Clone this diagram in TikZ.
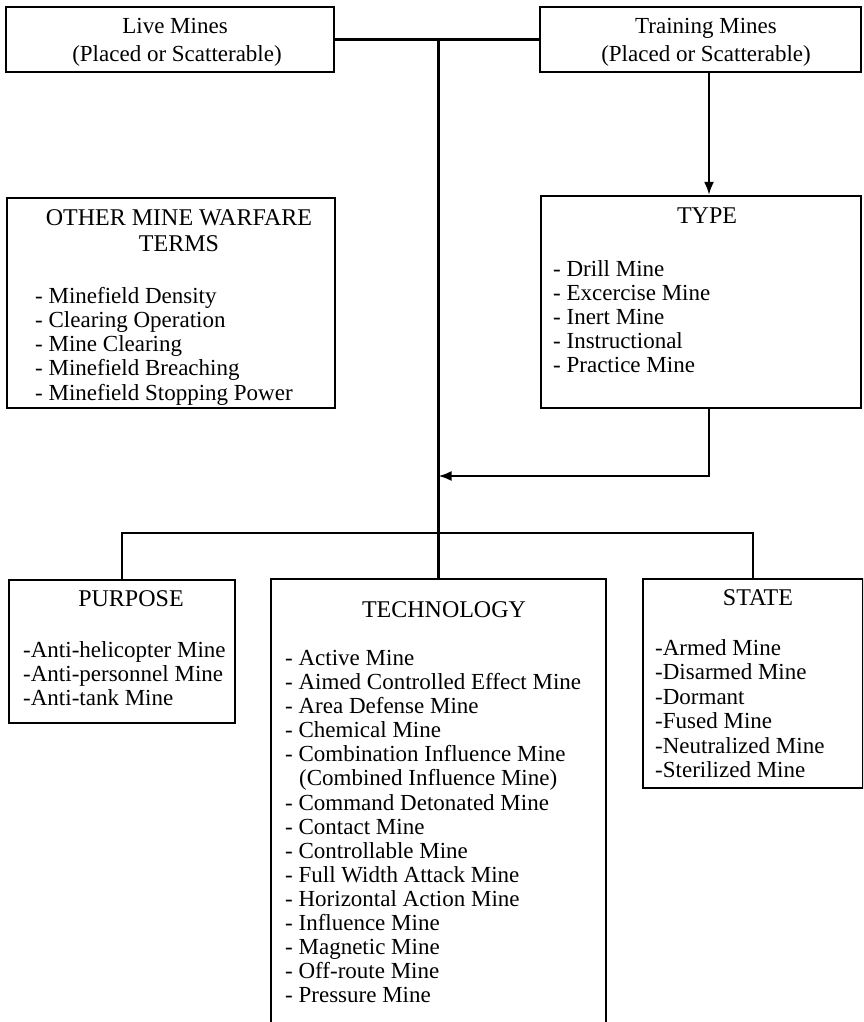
\documentclass[tikz,border=0pt]{standalone}
\usepackage{fontspec}
\setmainfont{Liberation Serif}
\usetikzlibrary{arrows.meta}
\tikzset{
    box/.style={draw, line width=2.2pt, inner sep=0pt},
    txt/.style={inner sep=0pt, font=\fontsize{23}{24}\selectfont},
    head/.style={inner sep=0pt, font=\fontsize{24}{25}\selectfont},
    link/.style={line width=2.2pt},
    arr/.style={line width=2.2pt, -{Latex[length=13pt,width=10pt]}}
}

\begin{document}
\begin{tikzpicture}[x=1pt,y=-1pt]
    \useasboundingbox (0,0) rectangle (863,1022);
    \clip (0,0) rectangle (863,1022);
    % boxes
    \node[box, minimum width=328pt, minimum height=65pt] (live) at (170,39.5) {};
    \node[box, minimum width=321pt, minimum height=65pt] (train) at (700.5,39.5) {};
    \node[box, minimum width=328pt, minimum height=210pt] (other) at (171,303) {};
    \node[box, minimum width=320pt, minimum height=212pt] (type) at (701,302) {};
    \node[box, minimum width=226pt, minimum height=143pt] (purpose) at (122,651.5) {};
    \node[box, minimum width=335pt, minimum height=461pt] (tech) at (438.5,809.5) {};
    \node[box, minimum width=220pt, minimum height=209pt] (state) at (753,683.5) {};
    % connectors
    \coordinate (fork) at (438.5,533);
    \coordinate (merge) at (438.5,476);
    \coordinate (tcol) at (709,0);
    \draw[link] (live.east) -- (train.west);
    \draw[link] (live.east -| tech.north) -- (tech.north);
    \draw[link] (purpose.north) |- (fork) -| (state.north);
    \draw[arr] (train.south -| tcol) -- (type.north -| tcol);
    \draw[arr] (type.south -| tcol) |- (merge);
    % headings
    \node[txt, anchor=base] (live-a) at (175,34) {Live Mines};
    \node[txt, anchor=base] (live-b) at (177,62) {(Placed or Scatterable)};
    \node[txt, anchor=base] (train-a) at (706,34) {Training Mines};
    \node[txt, anchor=base] (train-b) at (706,62) {(Placed or Scatterable)};
    \node[head, anchor=base] (other-a) at (179,225) {OTHER MINE WARFARE};
    \node[head, anchor=base] (other-b) at (179,251) {TERMS};
    \node[head, anchor=base] (type-a) at (707,223) {TYPE};
    \node[head, anchor=base] (purpose-a) at (131,606) {PURPOSE};
    \node[head, anchor=base] (tech-a) at (444,617) {TECHNOLOGY};
    \node[head, anchor=base] (state-a) at (758,605) {STATE};
    % lists
    \foreach \t [count=\i] in {- Minefield Density, - Clearing Operation, - Mine Clearing,
        - Minefield Breaching, - Minefield Stopping Power}
        \node[txt, anchor=base west] (other-\i) at (35,{279+24.2*\i}) {\t};
    \foreach \t [count=\i] in {- Drill Mine, - Excercise Mine, - Inert Mine,
        - Instructional, - Practice Mine}
        \node[txt, anchor=base west] (type-\i) at (553,{253+23.8*\i}) {\t};
    \foreach \t [count=\i] in {-Anti-helicopter Mine, -Anti-personnel Mine, -Anti-tank Mine}
        \node[txt, anchor=base west] (purpose-\i) at (23,{633+24*\i}) {\t};
    \foreach \t [count=\i] in {-Armed Mine, -Disarmed Mine, -Dormant, -Fused Mine,
        -Neutralized Mine, -Sterilized Mine}
        \node[txt, anchor=base west] (state-\i) at (655,{631+24.4*\i}) {\t};
    \foreach \t [count=\i] in {- Active Mine, - Aimed Controlled Effect Mine, - Area Defense Mine,
        - Chemical Mine, - Combination Influence Mine, \hspace*{14pt}(Combined Influence Mine),
        - Command Detonated Mine, - Contact Mine, - Controllable Mine, - Full Width Attack Mine,
        - Horizontal Action Mine, - Influence Mine, - Magnetic Mine, - Off-route Mine,
        - Pressure Mine}
        \node[txt, anchor=base west] (tech-\i) at (285,{641.3+24.1*\i}) {\t};
\end{tikzpicture}
\end{document}
